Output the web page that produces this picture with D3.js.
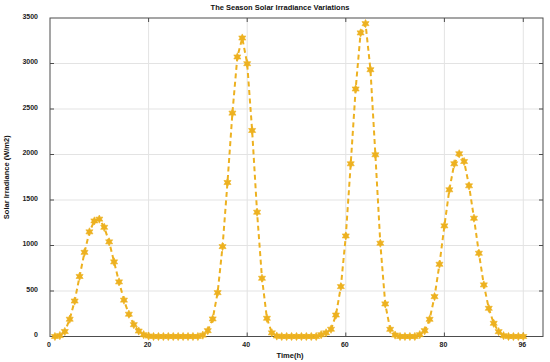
<!DOCTYPE html>
<html>
<head>
<meta charset="utf-8">
<script src="https://cdn.jsdelivr.net/npm/d3@7"></script>
<style>
  html, body { margin: 0; padding: 0; background: #fff; }
  svg { display: block; font-family: "Liberation Sans", Arial, sans-serif; }
</style>
</head>
<body>
<div id="chart"></div>
<script>
// irradiance (W/m2), one value per hour from t=1 to t=96
const irradiance= [
  0, 10, 55, 190, 390, 660, 925, 1150, 1270, 1290,
  1200, 1040, 820, 600, 400, 245, 130, 60, 20, 5,
  0, 0, 0, 0, 0, 0, 0, 0, 0, 0,
  15, 64, 193, 482, 988, 1692, 2455, 3072, 3280, 2998,
  2264, 1366, 640, 200, 40, 5,
  0, 0, 0, 0, 0, 0, 0, 0,
  20, 40, 80, 236, 548, 1105, 1898, 2720, 3336, 3438,
  2932, 1997, 1025, 358, 79, 16,
  0, 0, 0, 0,
  20, 64, 189, 438, 794, 1216, 1612, 1898, 2008, 1923,
  1656, 1300, 915, 567, 310, 145, 53, 9,
  0, 0, 0, 0,
];
const hours= irradiance.map((_, i) => i+1);
const xTicks= [0, 20, 40, 60, 80, 96];
const yTicks= [0, 500, 1000, 1500, 2000, 2500, 3000, 3500];

const W= 550, H= 362;
const M= { left: 50, right: 7, top: 18, bottom: 25.5 };
const COLOR= '#EDB120';

const svg= d3.select('#chart').append('svg')
  .attr('width', W).attr('height', H);

svg.append('rect').attr('width', W).attr('height', H).attr('fill', '#fff');

const x= d3.scaleLinear().domain([0, 100]).range([M.left, W-M.right]);
const y= d3.scaleLinear().domain([0, 3500]).range([H-M.bottom, M.top]);

// grid
const g= svg.append('g');
g.selectAll('line.vgrid').data(xTicks.slice(1))
  .join('line').attr('class', 'vgrid')
  .attr('x1', d => x(d)).attr('x2', d => x(d))
  .attr('y1', y(0)).attr('y2', y(3500))
  .attr('stroke', '#e3e3e3').attr('stroke-width', 1);
g.selectAll('line.hgrid').data(yTicks.slice(1, -1))
  .join('line').attr('class', 'hgrid')
  .attr('x1', x(0)).attr('x2', x(100))
  .attr('y1', d => y(d)).attr('y2', d => y(d))
  .attr('stroke', '#e3e3e3').attr('stroke-width', 1);

// axes box
svg.append('rect')
  .attr('x', x(0)).attr('y', y(3500))
  .attr('width', x(100)-x(0)).attr('height', y(0)-y(3500))
  .attr('fill', 'none').attr('stroke', '#4d4d4d').attr('stroke-width', 1);

// inward ticks
const tl= 4;
svg.selectAll('line.xt').data(xTicks.slice(1))
  .join('line').attr('class', 'xt')
  .attr('x1', d => x(d)).attr('x2', d => x(d))
  .attr('y1', y(0)).attr('y2', y(0)-tl)
  .attr('stroke', '#4d4d4d');
svg.selectAll('line.xtt').data(xTicks.slice(1))
  .join('line').attr('class', 'xtt')
  .attr('x1', d => x(d)).attr('x2', d => x(d))
  .attr('y1', y(3500)).attr('y2', y(3500)+tl)
  .attr('stroke', '#4d4d4d');
svg.selectAll('line.yt').data(yTicks.slice(1, -1))
  .join('line').attr('class', 'yt')
  .attr('x1', x(0)).attr('x2', x(0)+tl)
  .attr('y1', d => y(d)).attr('y2', d => y(d))
  .attr('stroke', '#4d4d4d');
svg.selectAll('line.ytr').data(yTicks.slice(1, -1))
  .join('line').attr('class', 'ytr')
  .attr('x1', x(100)).attr('x2', x(100)-tl)
  .attr('y1', d => y(d)).attr('y2', d => y(d))
  .attr('stroke', '#4d4d4d');

// tick labels
svg.selectAll('text.xl').data(xTicks)
  .join('text').attr('class', 'xl')
  .attr('x', d => x(d)-1).attr('y', y(0)+10)
  .attr('text-anchor', 'middle')
  .attr('font-size', 7).attr('font-weight', 700).attr('fill', '#222')
  .text(d => d);
svg.selectAll('text.yl').data(yTicks)
  .join('text').attr('class', 'yl')
  .attr('x', x(0)-12).attr('y', d => y(d)+0.5)
  .attr('text-anchor', 'end')
  .attr('font-size', 7).attr('font-weight', 700).attr('fill', '#222')
  .text(d => d);

// titles
svg.append('text')
  .attr('x', 280).attr('y', 10)
  .attr('text-anchor', 'middle')
  .attr('font-size', 7.5).attr('font-weight', 700).attr('fill', '#111')
  .text('The Season Solar Irradiance Variations');
svg.append('text')
  .attr('x', 290).attr('y', 358)
  .attr('text-anchor', 'middle')
  .attr('font-size', 7.5).attr('font-weight', 700).attr('fill', '#111')
  .text('Time(h)');
svg.append('text')
  .attr('transform', `translate(9,${(y(0)+y(3500))/2}) rotate(-90)`)
  .attr('text-anchor', 'middle')
  .attr('font-size', 7.5).attr('font-weight', 700).attr('fill', '#111')
  .text('Solar Irradiance (W/m2)');

// series
const pts= hours.map((h, i) => ({ h, v: irradiance[i] }));

svg.append('path')
  .datum(pts)
  .attr('fill', 'none')
  .attr('stroke', COLOR)
  .attr('stroke-width', 2)
  .attr('stroke-dasharray', '5,3.5')
  .attr('d', d3.line().x(d => x(d.h)).y(d => y(d.v)));

// six-pointed star marker
const hexagram= {
  draw(ctx, size) {
    const R= Math.sqrt(size)*0.75;
    const r= R*0.55;
    for (let k= 0; k < 12; k++) {
      const a= -Math.PI/2+k*Math.PI/6;
      const rr= k % 2 === 0 ? R : r;
      const px= rr*Math.cos(a), py= rr*Math.sin(a);
      if (k === 0) ctx.moveTo(px, py); else ctx.lineTo(px, py);
    }
    ctx.closePath();
  }
};

svg.append('g').selectAll('path')
  .data(pts)
  .join('path')
  .attr('transform', d => `translate(${x(d.h)},${y(d.v)})`)
  .attr('d', d3.symbol().type(hexagram).size(30))
  .attr('fill', COLOR)
  .attr('stroke', COLOR)
  .attr('stroke-width', 0.6);
</script>
</body>
</html>
